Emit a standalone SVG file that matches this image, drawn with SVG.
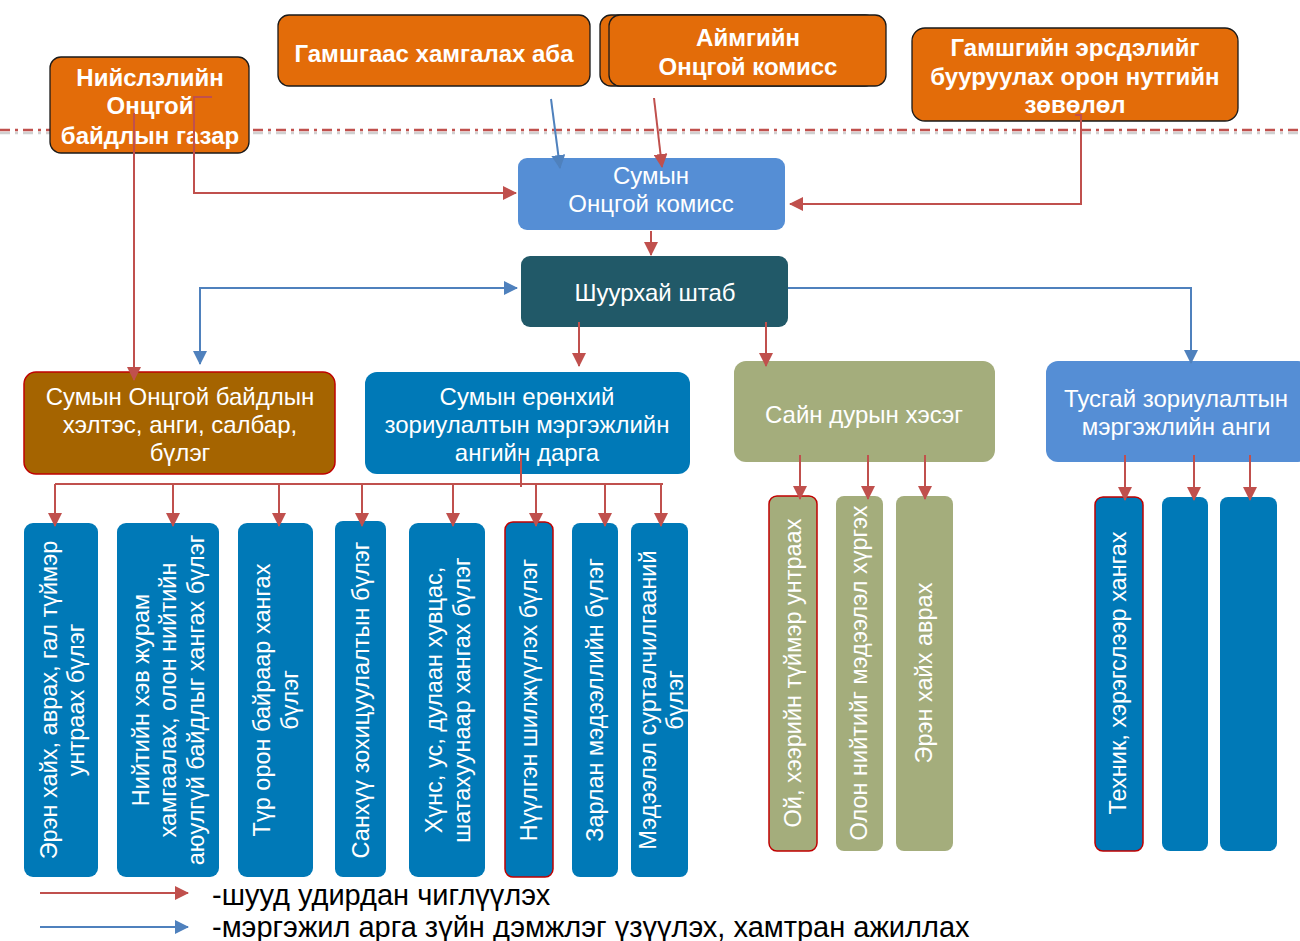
<svg xmlns="http://www.w3.org/2000/svg" width="1300" height="941" viewBox="0 0 1300 941">
<defs>
<marker id="ar" markerUnits="userSpaceOnUse" markerWidth="14" markerHeight="14" viewBox="0 0 14 14" refX="13" refY="7" orient="auto"><path d="M0,0 L14,7 L0,14 z" fill="#C0504D"/></marker>
<marker id="ab" markerUnits="userSpaceOnUse" markerWidth="14" markerHeight="14" viewBox="0 0 14 14" refX="13" refY="7" orient="auto-start-reverse"><path d="M0,0 L14,7 L0,14 z" fill="#4F81BD"/></marker>
</defs>
<style>
text{font-family:"Liberation Sans",Arial,sans-serif;fill:#fff;text-anchor:middle;dominant-baseline:central}
.top rect{fill:#E36C09;stroke:#1a1a1a;stroke-width:1.3}
.top text{font-weight:bold;font-size:24px}
.n text{font-size:24px}
.v text{font-size:23.5px}
.col{fill:#0079B7}
.olv{fill:#A4AD7C}
.rs{stroke:#C00000;stroke-width:1.5}
.r{fill:none;stroke:#C0504D;stroke-width:2}
.b{fill:none;stroke:#4F81BD;stroke-width:2}
.leg{fill:#000;text-anchor:start;font-size:29px}
</style>
<line x1="0" y1="133" x2="1300" y2="133" stroke="#d0d0d0" stroke-width="2.5" stroke-dasharray="10 5 3 5"/>
<line x1="0" y1="130" x2="1300" y2="130" stroke="#C0504D" stroke-width="2.5" stroke-dasharray="10 5 3 5"/>
<g id="niislel" class="top"><rect x="50" y="57" width="199" height="96" rx="11"/><text x="150" y="77">Нийслэлийн</text><text x="150" y="105">Онцгой</text><text x="150" y="135">байдлын газар</text></g>
<g id="gamshgaas" class="top"><rect x="278" y="15" width="312" height="71" rx="11"/><text x="434" y="53">Гамшгаас хамгалах аба</text></g>
<g id="aimag" class="top"><rect x="600" y="15" width="276" height="71" rx="11"/><rect x="609" y="15" width="277" height="71" rx="11"/><text x="748" y="37">Аймгийн</text><text x="748" y="66">Онцгой комисс</text></g>
<g id="zuvlul" class="top"><rect x="912" y="28" width="326" height="93" rx="13"/><text x="1075" y="47">Гамшгийн эрсдэлийг</text><text x="1075" y="76">бууруулах орон нутгийн</text><text x="1075" y="104">зөвөлөл</text></g>
<g id="sum-komiss" class="n"><rect x="518" y="158" width="267" height="72" rx="9" fill="#558ED5"/><text x="651" y="175">Сумын</text><text x="651" y="203">Онцгой комисс</text></g>
<g id="shtab" class="n"><rect x="521" y="256" width="267" height="71" rx="9" fill="#215968"/><text x="655" y="292">Шуурхай штаб</text></g>
<g id="heltes" class="n"><rect x="24" y="372" width="311" height="102" rx="12" fill="#A56400" class="rs"/><text x="180" y="396">Сумын Онцгой байдлын</text><text x="180" y="424">хэлтэс, анги, салбар,</text><text x="180" y="452">бүлэг</text></g>
<g id="darga" class="n"><rect x="365" y="372" width="325" height="102" rx="12" fill="#0079B7"/><text x="527" y="396">Сумын ерөнхий</text><text x="527" y="424">зориулалтын мэргэжлийн</text><text x="527" y="452">ангийн дарга</text></g>
<g id="sain-dur" class="n"><rect x="734" y="361" width="261" height="101" rx="12" fill="#A4AD7C"/><text x="864" y="414">Сайн дурын хэсэг</text></g>
<g id="tusgai" class="n"><rect x="1046" y="361" width="264" height="101" rx="12" fill="#558ED5"/><text x="1176" y="398">Тусгай зориулалтын</text><text x="1176" y="426">мэргэжлийн анги</text></g>
<g id="c1" class="v"><rect class="col" x="24" y="523" width="74" height="354" rx="9"/><text transform="translate(49 700) rotate(-90)">Эрэн хайх, аврах, гал түймэр</text><text transform="translate(76 700) rotate(-90)">унтраах бүлэг</text></g>
<g id="c2" class="v"><rect class="col" x="117" y="523" width="102" height="354" rx="9"/><text transform="translate(141 700) rotate(-90)">Нийтийн хэв журам</text><text transform="translate(168 700) rotate(-90)">хамгаалах, олон нийтийн</text><text transform="translate(196 700) rotate(-90)">аюулгүй байдлыг хангах бүлэг</text></g>
<g id="c3" class="v"><rect class="col" x="238" y="523" width="75" height="354" rx="9"/><text transform="translate(262 700) rotate(-90)">Түр орон байраар хангах</text><text transform="translate(290 700) rotate(-90)">бүлэг</text></g>
<g id="c4" class="v"><rect class="col" x="335" y="521" width="51" height="356" rx="8"/><text transform="translate(361 700) rotate(-90)">Санхүү зохицуулалтын бүлэг</text></g>
<g id="c5" class="v"><rect class="col" x="409" y="523" width="76" height="354" rx="9"/><text transform="translate(434 700) rotate(-90)">Хүнс, ус, дулаан хувцас,</text><text transform="translate(462 700) rotate(-90)">шатахуунаар хангах бүлэг</text></g>
<g id="c6" class="v"><rect class="col rs" x="505" y="522" width="48" height="355" rx="8"/><text transform="translate(529 700) rotate(-90)">Нүүлгэн шилжүүлэх бүлэг</text></g>
<g id="c7" class="v"><rect class="col" x="572" y="523" width="46" height="354" rx="8"/><text transform="translate(595 700) rotate(-90)">Зарлан мэдээллийн бүлэг</text></g>
<g id="c8" class="v"><rect class="col" x="631" y="523" width="57" height="354" rx="8"/><text transform="translate(648 700) rotate(-90)">Мэдээлэл сурталчилгааний</text><text transform="translate(675 700) rotate(-90)">бүлэг</text></g>
<g id="c9" class="v"><rect class="olv rs" x="769" y="496" width="48" height="355" rx="8"/><text transform="translate(793 673) rotate(-90)">Ой, хээрийн түймэр унтраах</text></g>
<g id="c10" class="v"><rect class="olv" x="836" y="496" width="47" height="355" rx="8"/><text transform="translate(859 673) rotate(-90)">Олон нийтийг мэдээлэл хүргэх</text></g>
<g id="c11" class="v"><rect class="olv" x="896" y="496" width="57" height="355" rx="8"/><text transform="translate(924 673) rotate(-90)">Эрэн хайх аврах</text></g>
<g id="c12" class="v"><rect class="col rs" x="1095" y="497" width="48" height="354" rx="8"/><text transform="translate(1118 673) rotate(-90)">Техник, хэрэгслээр хангах</text></g>
<g id="c13"><rect class="col" x="1162" y="497" width="46" height="354" rx="8"/></g>
<g id="c14"><rect class="col" x="1220" y="497" width="57" height="354" rx="8"/></g>
<g id="connectors">
<path class="r" d="M134 113 V380" marker-end="url(#ar)"/>
<path class="r" d="M212 97 H194 V193 H516" marker-end="url(#ar)"/>
<path class="b" d="M551 99 L560 168" marker-end="url(#ab)"/>
<path class="r" d="M654 98 L662 167" marker-end="url(#ar)"/>
<path class="r" d="M1075 115 H1081 V204 H790" marker-end="url(#ar)"/>
<path class="r" d="M651 231 V255" marker-end="url(#ar)"/>
<path class="b" d="M200 364 V288 H517" marker-start="url(#ab)" marker-end="url(#ab)"/>
<path class="b" d="M788 288 H1191 V363" marker-end="url(#ab)"/>
<path class="r" d="M579 322 V366" marker-end="url(#ar)"/>
<path class="r" d="M766 322 V366" marker-end="url(#ar)"/>
<path class="r" d="M521 455 V487"/>
<path class="r" d="M55 484 H663"/>
<path class="r" d="M55 484 V526" marker-end="url(#ar)"/>
<path class="r" d="M173 484 V526" marker-end="url(#ar)"/>
<path class="r" d="M279 484 V526" marker-end="url(#ar)"/>
<path class="r" d="M362 484 V526" marker-end="url(#ar)"/>
<path class="r" d="M453 484 V526" marker-end="url(#ar)"/>
<path class="r" d="M536 484 V526" marker-end="url(#ar)"/>
<path class="r" d="M605 484 V526" marker-end="url(#ar)"/>
<path class="r" d="M661 484 V526" marker-end="url(#ar)"/>
<path class="r" d="M800 455 V499" marker-end="url(#ar)"/>
<path class="r" d="M868 455 V499" marker-end="url(#ar)"/>
<path class="r" d="M925 455 V499" marker-end="url(#ar)"/>
<path class="r" d="M1125 455 V500" marker-end="url(#ar)"/>
<path class="r" d="M1194 455 V500" marker-end="url(#ar)"/>
<path class="r" d="M1250 455 V500" marker-end="url(#ar)"/>
</g>
<g id="legend">
<path class="r" d="M40 893 H188" marker-end="url(#ar)"/>
<path class="b" d="M40 927 H188" marker-end="url(#ab)"/>
<text class="leg" x="212" y="895">-шууд удирдан чиглүүлэх</text>
<text class="leg" x="212" y="927">-мэргэжил арга зүйн дэмжлэг үзүүлэх, хамтран ажиллах</text>
</g>
</svg>
